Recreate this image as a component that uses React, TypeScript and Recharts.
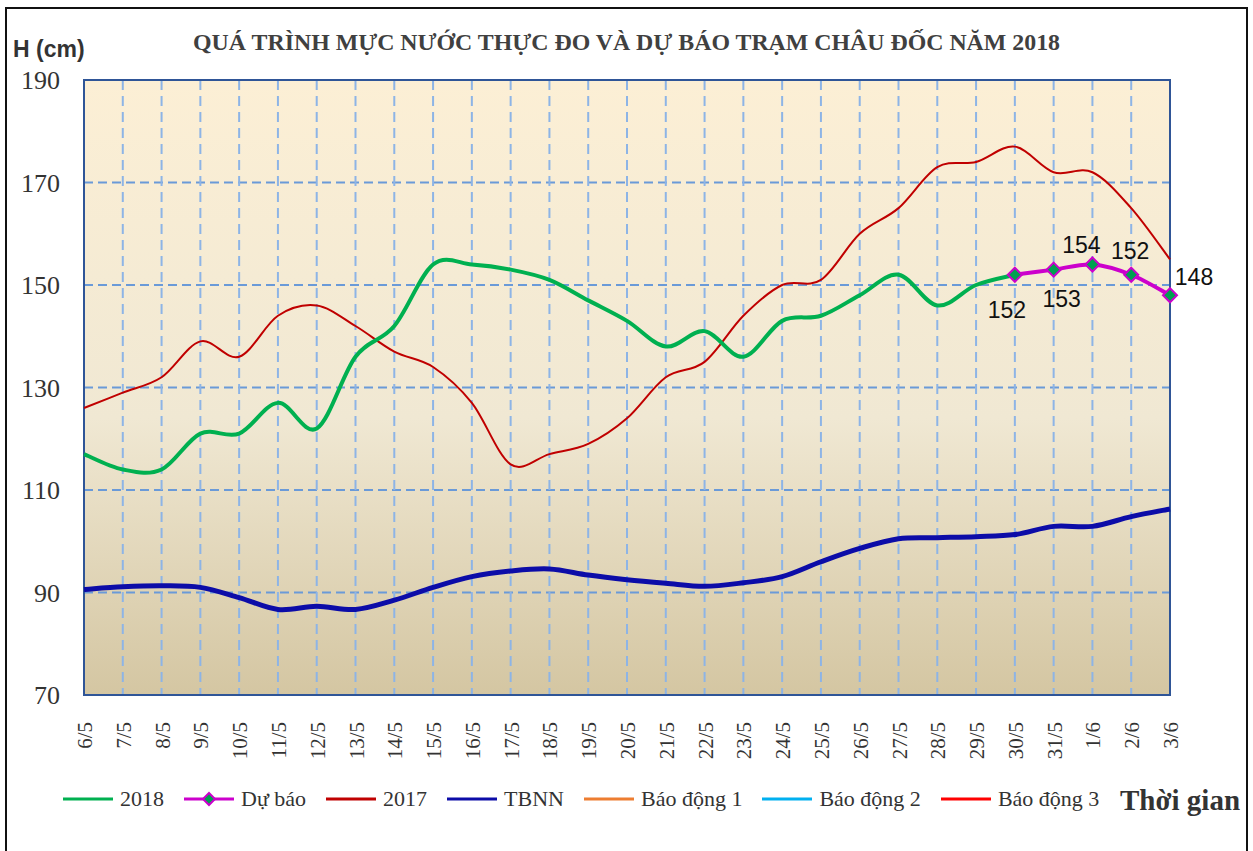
import React from "react";
import { LineChart, Line, XAxis, YAxis, CartesianGrid, ReferenceArea } from "recharts";

const dates = [
  "6/5", "7/5", "8/5", "9/5", "10/5", "11/5", "12/5", "13/5", "14/5", "15/5",
  "16/5", "17/5", "18/5", "19/5", "20/5", "21/5", "22/5", "23/5", "24/5", "25/5",
  "26/5", "27/5", "28/5", "29/5", "30/5", "31/5", "1/6", "2/6", "3/6",
];

// measured 2018 levels (cm)
const obs2018 = [
  117, 114, 114, 121, 121, 127, 122, 136, 142, 154,
  154, 153, 151, 147, 143, 138, 141, 136, 143, 144,
  148, 152, 146, 150, 152, null, null, null, null,
];

// forecast (Dự báo)
const forecast = [
  null, null, null, null, null, null, null, null, null, null,
  null, null, null, null, null, null, null, null, null, null,
  null, null, null, null, 152, 153, 154, 152, 148,
];

const y2017 = [
  126, 129, 132, 139, 136, 144, 146, 142, 137, 134,
  127, 115, 117, 119, 124, 132, 135, 144, 150, 151,
  160, 165, 173, 174, 177, 172, 172, 165, 155,
];

// trung bình nhiều năm
const tbnn = [
  90.6, 91.1, 91.3, 91.0, 89.0, 86.7, 87.3, 86.7, 88.5, 91.0,
  93.1, 94.2, 94.6, 93.4, 92.5, 91.8, 91.2, 91.9, 93.1, 96.0,
  98.6, 100.5, 100.7, 100.9, 101.3, 102.9, 102.9, 104.8, 106.3,
];

const yTicks = [70, 90, 110, 130, 150, 170, 190];

const legendItems = [
  { name: "2018", color: "#00B050", marker: false },
  { name: "Dự báo", color: "#CC00CC", marker: true },
  { name: "2017", color: "#C00000", marker: false },
  { name: "TBNN", color: "#0C0CA8", marker: false },
  { name: "Báo động 1", color: "#ED7D31", marker: false },
  { name: "Báo động 2", color: "#00B0F0", marker: false },
  { name: "Báo động 3", color: "#FF0000", marker: false },
];

const data = dates.map((d, i) => ({
  date: d,
  y2018: obs2018[i],
  forecast: forecast[i],
  y2017: y2017[i],
  tbnn: tbnn[i],
}));

// label offsets for forecast values, by date
const forecastLabelPos: Record<string, [number, number]> = {
  "30/5": [-8, 35],
  "31/5": [8, 29],
  "1/6": [-11, -20],
  "2/6": [-1, -24],
  "3/6": [24, -18],
};

const SERIF = "'Liberation Serif', 'Times New Roman', serif";
const SANS = "'Liberation Sans', Arial, sans-serif";

// excel-like smoothed line (bezier with 1/6 tangents)
const excelSmooth = (context: any) => {
  let pts: number[][] = [];
  return {
    areaStart() {},
    areaEnd() {},
    lineStart() {
      pts = [];
    },
    point(x: number, y: number) {
      pts.push([+x, +y]);
    },
    lineEnd() {
      if (!pts.length) return;
      context.moveTo(pts[0][0], pts[0][1]);
      for (let i = 0; i < pts.length - 1; i++) {
        const p0 = pts[i - 1] || pts[i];
        const p1 = pts[i];
        const p2 = pts[i + 1];
        const p3 = pts[i + 2] || p2;
        context.bezierCurveTo(
          p1[0] + (p2[0] - p0[0]) / 6,
          p1[1] + (p2[1] - p0[1]) / 6,
          p2[0] - (p3[0] - p1[0]) / 6,
          p2[1] - (p3[1] - p1[1]) / 6,
          p2[0],
          p2[1]
        );
      }
    },
  };
};

const Diamond = ({ cx, cy, r = 7 }: { cx: number; cy: number; r?: number }) => (
  <polygon
    points={`${cx},${cy - r} ${cx + r},${cy} ${cx},${cy + r} ${cx - r},${cy}`}
    fill="#00A050"
    stroke="#CC00CC"
    strokeWidth={2}
  />
);

const renderForecastDot = (props: any) => {
  const { cx, cy, value, payload, index } = props;
  if (value == null || cx == null || cy == null) return <g key={`fd-${index}`} />;
  const off = forecastLabelPos[payload.date] || [0, -20];
  return (
    <g key={`fd-${index}`}>
      <Diamond cx={cx} cy={cy} />
      <text
        x={cx + off[0]}
        y={cy + off[1]}
        textAnchor="middle"
        dominantBaseline="central"
        fontFamily={SANS}
        fontSize={23}
        fill="#111"
      >
        {value}
      </text>
    </g>
  );
};

const XTick = (props: any) => {
  const { x, y, payload } = props;
  return (
    <text
      transform={`translate(${x + 8},${y + 27}) rotate(-90)`}
      textAnchor="end"
      fontFamily={SERIF}
      fontSize={21}
      fill="#333"
    >
      {payload.value}
    </text>
  );
};

export default function App() {
  return (
    <div style={{ position: "absolute", left: 0, top: 0, width: 1253, height: 851, background: "#fff" }}>
      <div
        style={{
          position: "absolute",
          left: 5,
          top: 7,
          width: 1239,
          height: 844,
          borderLeft: "2px solid #111",
          borderRight: "2px solid #111",
          borderTop: "2px solid #111",
        }}
      />
      <div style={{ position: "absolute", left: 0, top: 0 }}>
        <LineChart
          width={1253}
          height={851}
          data={data}
          margin={{ top: 80, right: 83, bottom: 96, left: 24 }}
        >
          <defs>
            <linearGradient id="plotBg" x1="0" y1="0" x2="0" y2="1">
              <stop offset="0%" stopColor="#FCEFD5" />
              <stop offset="55%" stopColor="#F0E8D3" />
              <stop offset="100%" stopColor="#D4C6A2" />
            </linearGradient>
          </defs>
          <CartesianGrid
            vertical={false}
            fill="url(#plotBg)"
            fillOpacity={1}
            stroke="#6A9AD8"
            strokeWidth={2}
            strokeDasharray="9 5"
          />
          <CartesianGrid
            horizontal={false}
            stroke="#8DB4E6"
            strokeWidth={2}
            strokeDasharray="10 6"
          />
          <XAxis
            dataKey="date"
            interval={0}
            height={60}
            tickSize={0}
            tickMargin={0}
            axisLine={false}
            tick={<XTick />}
          />
          <YAxis
            domain={[70, 190]}
            ticks={yTicks}
            width={60}
            tickSize={0}
            tickMargin={24}
            axisLine={false}
            tick={{ fill: "#333", fontSize: 26, fontFamily: SERIF }}
          />
          <ReferenceArea
            x1="6/5"
            x2="3/6"
            y1={70}
            y2={190}
            fill="none"
            stroke="#2F5597"
            strokeWidth={2}
            strokeOpacity={1}
          />
          <Line
            dataKey="tbnn"
            type={excelSmooth as any}
            stroke="#0C0CA8"
            strokeWidth={5}
            dot={false}
            isAnimationActive={false}
          />
          <Line
            dataKey="y2017"
            type={excelSmooth as any}
            stroke="#C00000"
            strokeWidth={2}
            dot={false}
            isAnimationActive={false}
          />
          <Line
            dataKey="y2018"
            type={excelSmooth as any}
            stroke="#00B050"
            strokeWidth={4}
            dot={false}
            isAnimationActive={false}
          />
          <Line
            dataKey="forecast"
            type={excelSmooth as any}
            stroke="#CC00CC"
            strokeWidth={4}
            dot={renderForecastDot}
            activeDot={false}
            isAnimationActive={false}
          />
        </LineChart>
      </div>
      <svg
        width={1253}
        height={851}
        style={{ position: "absolute", left: 0, top: 0, pointerEvents: "none" }}
      >
        <text
          x={193}
          y={50}
          textLength={867}
          lengthAdjust="spacingAndGlyphs"
          fontFamily={SERIF}
          fontWeight="bold"
          fontSize={23}
          fill="#404040"
        >
          QUÁ TRÌNH MỰC NƯỚC THỰC ĐO VÀ DỰ BÁO TRẠM CHÂU ĐỐC NĂM 2018
        </text>
        <text x={13} y={57} fontFamily={SANS} fontWeight="bold" fontSize={23} fill="#333">
          H (cm)
        </text>
        <text x={1120} y={810} fontFamily={SERIF} fontWeight="bold" fontSize={29} fill="#333">
          Thời gian
        </text>
      </svg>
      <div
        style={{
          position: "absolute",
          left: 63,
          top: 786,
          display: "flex",
          alignItems: "center",
          fontFamily: SERIF,
          fontSize: 22,
          color: "#333",
          whiteSpace: "nowrap",
        }}
      >
        {legendItems.map((it) => (
          <div key={it.name} style={{ display: "flex", alignItems: "center", marginRight: 20 }}>
            <svg width={50} height={16} style={{ marginRight: 7 }}>
              <line x1={0} y1={8} x2={50} y2={8} stroke={it.color} strokeWidth={3} />
              {it.marker && <polygon points="25,2 31,8 25,14 19,8" fill="#00A050" stroke={it.color} strokeWidth={2} />}
            </svg>
            <span>{it.name}</span>
          </div>
        ))}
      </div>
    </div>
  );
}
